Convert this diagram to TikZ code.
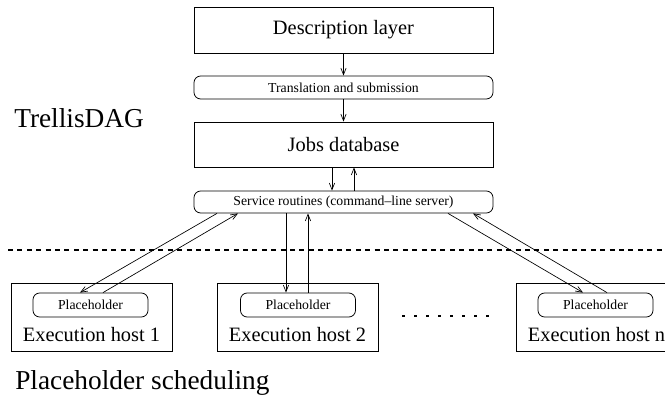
\documentclass[tikz,border=0pt]{standalone}
\usepackage{fontspec}
\setmainfont{Liberation Serif}
\usetikzlibrary{arrows.meta,calc}

\tikzset{
  layer/.style={draw, line width=0.6pt, minimum width=224.25pt, inner sep=0pt,
    font=\fontsize{15.3}{18}\selectfont},
  routine/.style={draw, line width=0.6pt, rounded corners=5pt, minimum width=224.25pt,
    inner sep=0pt, font=\fontsize{10.3}{12}\selectfont},
  hostbox/.style={draw, line width=0.6pt, minimum width=120.75pt, minimum height=51pt, inner sep=0pt},
  holder/.style={draw, line width=0.6pt, rounded corners=5pt, minimum width=86.25pt,
    minimum height=18pt, inner sep=0pt, font=\fontsize{10.3}{12}\selectfont},
  hostlabel/.style={inner sep=0pt, font=\fontsize{15.3}{18}\selectfont},
  title/.style={inner sep=0pt, anchor=west, font=\fontsize{20.5}{24}\selectfont},
  link/.style={->, line width=0.5pt},
}

\begin{document}
\begin{tikzpicture}[x=0.75pt,y=0.75pt,yscale=-1,>={Straight Barb[length=5pt,width=4pt]}]
\useasboundingbox (0,0) rectangle (665,398);
\clip (0,0) rectangle (665,398);

%Shape: Rectangle [desc]
\node[layer, minimum height=34.5pt] (desc) at (343.5,30) {Description layer};
%Shape: Rounded Rectangle [trans]
\node[routine, minimum height=17.25pt] (trans) at (343.5,87.5) {Translation and submission};
%Shape: Rectangle [jobs]
\node[layer, minimum height=33.75pt] (jobs) at (343.5,144.5) {Jobs database};
%Shape: Rounded Rectangle [serv]
\node[routine, minimum height=16.5pt] (serv) at (343.5,202) {Service routines (command--line server)};

%Shape: Rectangle [hosts]
\node[hostbox] (host1) at (91.5,317) {};
\node[hostbox] (host2) at (297.5,317) {};
\node[hostbox] (hostn) at (596.5,317) {};
%Shape: Rounded Rectangle [placeholders]
\node[holder] (ph1) at (90.5,305) {Placeholder};
\node[holder] (ph2) at (298,305) {Placeholder};
\node[holder] (phn) at (595.5,305) {Placeholder};

% Text Node
\node[hostlabel] (lab1) at (91.5,335) {Execution host 1};
% Text Node
\node[hostlabel] (lab2) at (297.5,335) {Execution host 2};
% Text Node
\node[hostlabel] (labn) at (596.5,335) {Execution host n};
% Text Node
\node[title] (trellis) at (14,118.5) {TrellisDAG};
% Text Node
\node[title] (sched) at (15,382.6) {Placeholder scheduling};

%Straight Lines [separator]
\draw[line width=1.5pt, dash pattern=on 3.75pt off 3.3pt] (8,250) -- (665,250);
%Straight Lines [dots]
\draw[line width=1.5pt, dash pattern=on 2.25pt off 6.75pt] (402,316) -- (495,316);

%Straight Lines [top chain]
\draw[link] (desc.south) -- (trans.north);
\draw[link] (trans.south) -- (jobs.north);
\draw[link] ($(jobs.south)+(-11.5,0)$) -- ($(serv.north)+(-11.5,0)$);
\draw[link] ($(serv.north)+(10.5,0)$) -- ($(jobs.south)+(10.5,0)$);

%Straight Lines [to hosts]
\draw[link] ($(serv.south)+(-126.5,0)$) -- ($(ph1.north)+(-10.5,0)$);
\draw[link] ($(ph1.north)+(12.5,0)$) -- ($(serv.south)+(-105.5,0)$);
\draw[link] ($(serv.south)+(-57.5,0)$) -- ($(ph2.north)+(-12,0)$);
\draw[link] ($(ph2.north)+(10,0)$) -- ($(serv.south)+(-35.5,0)$);
\draw[link] ($(serv.south)+(104.5,0)$) -- ($(phn.north)+(-12.5,0)$);
\draw[link] ($(phn.north)+(11.5,0)$) -- ($(serv.south)+(129.5,0)$);
\end{tikzpicture}
\end{document}
